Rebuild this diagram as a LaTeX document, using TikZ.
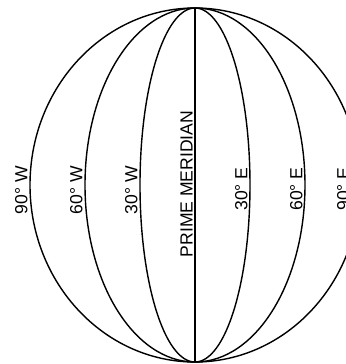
\documentclass[tikz,border=0pt]{standalone}
\usepackage{fontspec}
\setmainfont{Liberation Sans}
\usepackage{tikz}

\begin{document}
\begin{tikzpicture}[
    x=0.025cm, y=0.025cm,
    meridian/.style={draw=black, line width=1pt},
    lbl/.style={rotate=90, anchor=south, inner sep=1.5pt, font=\fontsize{12.5}{14}\selectfont},
  ]
  % Frame of the picture
  \useasboundingbox (-195,-179) rectangle (151,185);
  \clip (-195,-179) rectangle (151,185);

  % Globe and meridians
  \coordinate (north) at (0,177);
  \coordinate (south) at (0,-177);
  \draw[meridian] (0,0) ellipse [x radius=165, y radius=177];
  \draw[meridian] (0,0) ellipse [x radius=110, y radius=177];
  \draw[meridian] (0,0) ellipse [x radius=55, y radius=177];
  \draw[meridian] (north) -- (south);

  % Labels, west side
  \node[lbl] (w90) at (-165,-5) {90° W};
  \node[lbl] (w60) at (-110,-5) {60° W};
  \node[lbl] (w30) at (-55,-5) {30° W};
  \node[lbl] (prime) at (0,1) {PRIME MERIDIAN};

  % Labels, east side
  \node[lbl] (e30) at (55,-4) {30° E};
  \node[lbl] (e60) at (110,-4) {60° E};
  \node[lbl] (e90) at (157,-4) {90° E};
\end{tikzpicture}
\end{document}
